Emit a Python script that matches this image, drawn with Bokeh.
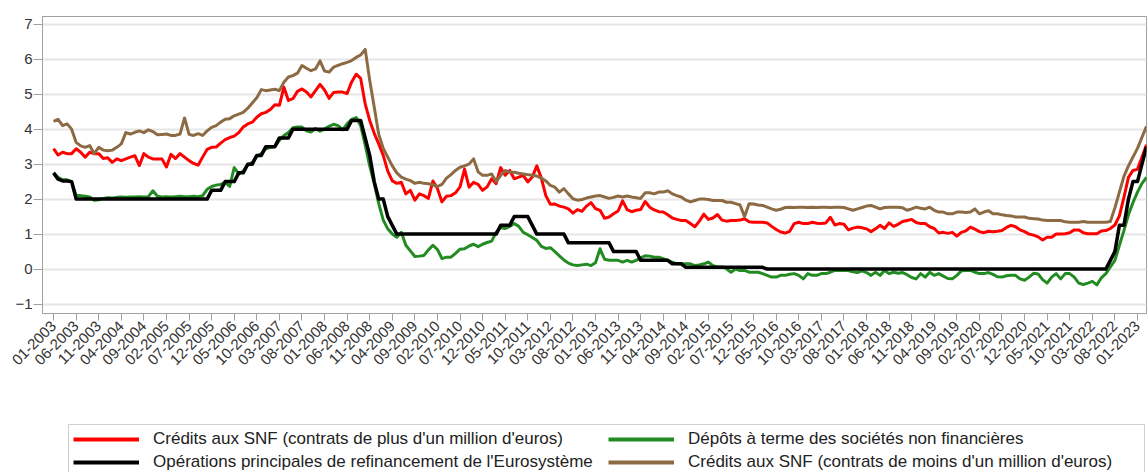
from bokeh.plotting import figure
from bokeh.models import Range1d, FixedTicker, Legend, LegendItem
from bokeh.layouts import column
from bokeh.embed import file_html
from bokeh.resources import INLINE
import math

# ---- data: monthly, Jan 2003 .. Mar 2023 (index 0 .. 242) ----
credits_plus_1m = [  # red
    3.44, 3.26, 3.34, 3.30, 3.30, 3.44, 3.34, 3.20, 3.34, 3.30, 3.30, 3.16,
    3.18, 3.05, 3.15, 3.10, 3.15, 3.20, 3.24, 2.96, 3.30, 3.20, 3.15, 3.15,
    3.15, 2.92, 3.28, 3.16, 3.30, 3.20, 3.10, 3.02, 2.97, 3.20, 3.42, 3.48,
    3.49, 3.60, 3.70, 3.76, 3.80, 3.90, 4.06, 4.15, 4.20, 4.34, 4.44, 4.48,
    4.56, 4.70, 4.68, 5.20, 4.82, 4.87, 5.08, 5.15, 5.06, 4.92, 5.10, 5.28,
    5.12, 4.88, 5.05, 5.06, 5.06, 5.02, 5.35, 5.57, 5.45, 4.72, 4.25, 3.88,
    3.58, 3.25, 2.80, 2.52, 2.45, 2.48, 2.15, 2.25, 1.97, 2.15, 2.10, 2.02,
    2.52, 2.30, 1.92, 2.08, 2.10, 2.18, 2.35, 2.86, 2.34, 2.48, 2.42, 2.25,
    2.35, 2.58, 2.44, 2.90, 2.68, 2.82, 2.58, 2.63, 2.68, 2.49, 2.63, 2.95,
    2.60, 2.10, 1.85, 1.86, 1.80, 1.77, 1.72, 1.60, 1.70, 1.65, 1.80, 1.90,
    1.73, 1.68, 1.45, 1.49, 1.58, 1.66, 1.95, 1.70, 1.64, 1.68, 1.70, 1.93,
    1.77, 1.69, 1.64, 1.63, 1.55, 1.46, 1.42, 1.39, 1.39, 1.30, 1.21, 1.37,
    1.57, 1.42, 1.46, 1.56, 1.40, 1.37, 1.39, 1.39, 1.40, 1.44, 1.35, 1.34,
    1.34, 1.34, 1.32, 1.22, 1.13, 1.06, 1.03, 1.08, 1.30, 1.34, 1.30, 1.30,
    1.34, 1.31, 1.30, 1.32, 1.48, 1.26, 1.30, 1.28, 1.12, 1.17, 1.20, 1.18,
    1.15, 1.07, 1.15, 1.25, 1.16, 1.32, 1.22, 1.28, 1.36, 1.39, 1.42, 1.33,
    1.30, 1.30, 1.21, 1.16, 1.03, 1.05, 1.02, 1.05, 0.94, 1.05, 1.09, 1.20,
    1.14, 1.07, 1.04, 1.08, 1.07, 1.08, 1.10, 1.19, 1.25, 1.21, 1.12, 1.07,
    1.00, 0.97, 0.92, 0.83, 0.91, 0.91, 1.00, 1.00, 1.01, 1.04, 1.12, 1.12,
    1.04, 1.01, 1.01, 1.01, 1.09, 1.10, 1.16, 1.26, 1.52, 2.05, 2.62, 2.82,
    2.85, 3.20, 3.55,
]

depots_terme = [  # green
    2.75, 2.62, 2.55, 2.55, 2.50, 2.10, 2.10, 2.08, 2.06, 1.97, 1.98, 2.02,
    2.04, 2.03, 2.05, 2.06, 2.05, 2.06, 2.06, 2.07, 2.06, 2.07, 2.24, 2.08,
    2.06, 2.07, 2.06, 2.07, 2.08, 2.07, 2.07, 2.08, 2.07, 2.10, 2.28, 2.36,
    2.40, 2.42, 2.48, 2.36, 2.90, 2.72, 2.80, 2.98, 3.05, 3.22, 3.30, 3.44,
    3.48, 3.50, 3.68, 3.82, 3.90, 4.04, 4.06, 4.06, 3.95, 3.92, 4.02, 3.94,
    4.00, 4.08, 4.14, 4.10, 3.98, 4.15, 4.28, 4.33, 4.10, 3.55, 2.95, 2.45,
    1.87, 1.40, 1.15, 1.00, 0.91, 1.05, 0.68, 0.52, 0.36, 0.37, 0.39, 0.55,
    0.68, 0.56, 0.30, 0.34, 0.34, 0.45, 0.57, 0.58, 0.66, 0.71, 0.64, 0.71,
    0.76, 0.80, 1.05, 1.19, 1.16, 1.22, 1.30, 1.22, 1.05, 0.98, 0.90, 0.82,
    0.65, 0.59, 0.61, 0.50, 0.38, 0.26, 0.17, 0.12, 0.10, 0.12, 0.14, 0.10,
    0.18, 0.58, 0.28, 0.25, 0.25, 0.25, 0.20, 0.25, 0.20, 0.25, 0.32, 0.38,
    0.37, 0.34, 0.34, 0.30, 0.25, 0.20, 0.15, 0.15, 0.15, 0.15, 0.10, 0.12,
    0.15, 0.20, 0.10, 0.06, 0.06, 0.01, -0.09, 0.00, -0.04, -0.04, -0.09, -0.09,
    -0.09, -0.13, -0.18, -0.23, -0.23, -0.18, -0.18, -0.15, -0.13, -0.18, -0.28, -0.13,
    -0.18, -0.18, -0.13, -0.13, -0.09, -0.04, -0.04, -0.04, -0.04, -0.08, -0.10, -0.05,
    -0.10, -0.18, -0.09, -0.18, -0.04, -0.13, -0.09, -0.12, -0.10, -0.16, -0.24, -0.28,
    -0.13, -0.23, -0.09, -0.18, -0.13, -0.20, -0.27, -0.28, -0.18, -0.05, -0.04, -0.04,
    -0.09, -0.13, -0.13, -0.10, -0.15, -0.22, -0.23, -0.19, -0.18, -0.18, -0.28, -0.32,
    -0.23, -0.12, -0.14, -0.30, -0.40, -0.23, -0.13, -0.28, -0.13, -0.13, -0.23, -0.40,
    -0.44, -0.40, -0.35, -0.45, -0.25, -0.13, 0.06, 0.25, 0.68, 1.10, 1.55, 1.90,
    2.20, 2.45, 2.62,
]

refi_eurosysteme = [  # black
    2.75, 2.57, 2.52, 2.52, 2.50, 2.00, 2.00, 2.00, 2.00, 2.00, 2.00, 2.00,
    2.00, 2.00, 2.00, 2.00, 2.00, 2.00, 2.00, 2.00, 2.00, 2.00, 2.00, 2.00,
    2.00, 2.00, 2.00, 2.00, 2.00, 2.00, 2.00, 2.00, 2.00, 2.00, 2.00, 2.25,
    2.25, 2.25, 2.50, 2.50, 2.50, 2.75, 2.75, 3.00, 3.00, 3.25, 3.25, 3.50,
    3.50, 3.50, 3.75, 3.75, 3.75, 4.00, 4.00, 4.00, 4.00, 4.00, 4.00, 4.00,
    4.00, 4.00, 4.00, 4.00, 4.00, 4.00, 4.25, 4.25, 4.25, 3.75, 3.25, 2.50,
    2.00, 2.00, 1.50, 1.25, 1.00, 1.00, 1.00, 1.00, 1.00, 1.00, 1.00, 1.00,
    1.00, 1.00, 1.00, 1.00, 1.00, 1.00, 1.00, 1.00, 1.00, 1.00, 1.00, 1.00,
    1.00, 1.00, 1.00, 1.25, 1.25, 1.25, 1.50, 1.50, 1.50, 1.50, 1.25, 1.00,
    1.00, 1.00, 1.00, 1.00, 1.00, 1.00, 0.75, 0.75, 0.75, 0.75, 0.75, 0.75,
    0.75, 0.75, 0.75, 0.75, 0.50, 0.50, 0.50, 0.50, 0.50, 0.50, 0.25, 0.25,
    0.25, 0.25, 0.25, 0.25, 0.25, 0.15, 0.15, 0.15, 0.05, 0.05, 0.05, 0.05,
    0.05, 0.05, 0.05, 0.05, 0.05, 0.05, 0.05, 0.05, 0.05, 0.05, 0.05, 0.05,
    0.05, 0.05, 0.00, 0.00, 0.00, 0.00, 0.00, 0.00, 0.00, 0.00, 0.00, 0.00,
    0.00, 0.00, 0.00, 0.00, 0.00, 0.00, 0.00, 0.00, 0.00, 0.00, 0.00, 0.00,
    0.00, 0.00, 0.00, 0.00, 0.00, 0.00, 0.00, 0.00, 0.00, 0.00, 0.00, 0.00,
    0.00, 0.00, 0.00, 0.00, 0.00, 0.00, 0.00, 0.00, 0.00, 0.00, 0.00, 0.00,
    0.00, 0.00, 0.00, 0.00, 0.00, 0.00, 0.00, 0.00, 0.00, 0.00, 0.00, 0.00,
    0.00, 0.00, 0.00, 0.00, 0.00, 0.00, 0.00, 0.00, 0.00, 0.00, 0.00, 0.00,
    0.00, 0.00, 0.00, 0.00, 0.00, 0.00, 0.25, 0.50, 1.25, 1.25, 2.00, 2.50,
    2.50, 3.00, 3.50,
]

credits_moins_1m = [  # brown
    4.22, 4.28, 4.10, 4.15, 4.00, 3.62, 3.52, 3.48, 3.53, 3.30, 3.48, 3.40,
    3.38, 3.40, 3.48, 3.58, 3.90, 3.86, 3.91, 3.95, 3.90, 3.98, 3.93, 3.84,
    3.85, 3.86, 3.82, 3.82, 3.86, 4.32, 3.85, 3.82, 3.87, 3.82, 3.95, 4.05,
    4.10, 4.20, 4.28, 4.30, 4.38, 4.43, 4.48, 4.60, 4.75, 4.90, 5.13, 5.10,
    5.12, 5.14, 5.10, 5.34, 5.49, 5.53, 5.60, 5.82, 5.74, 5.67, 5.72, 5.95,
    5.66, 5.63, 5.77, 5.82, 5.87, 5.91, 5.96, 6.05, 6.12, 6.28, 5.40, 4.63,
    3.85, 3.45, 3.20, 2.95, 2.75, 2.63, 2.57, 2.53, 2.45, 2.48, 2.45, 2.44,
    2.41, 2.36, 2.42, 2.60, 2.70, 2.82, 2.91, 2.95, 3.00, 3.15, 2.78, 2.68,
    2.68, 2.72, 2.50, 2.68, 2.82, 2.77, 2.77, 2.74, 2.72, 2.70, 2.68, 2.66,
    2.60, 2.52, 2.39, 2.34, 2.20, 2.30, 2.15, 2.01, 1.97, 1.99, 2.03, 2.06,
    2.09, 2.10, 2.06, 2.02, 2.05, 2.09, 2.06, 2.09, 2.06, 2.04, 2.02, 2.18,
    2.18, 2.15, 2.20, 2.20, 2.24, 2.15, 2.10, 2.06, 1.97, 1.92, 1.96, 2.00,
    2.00, 1.99, 1.96, 1.96, 1.96, 1.91, 1.91, 1.87, 1.83, 1.50, 1.87, 1.86,
    1.83, 1.82, 1.77, 1.72, 1.68, 1.71, 1.76, 1.77, 1.76, 1.77, 1.77, 1.76,
    1.77, 1.76, 1.77, 1.77, 1.76, 1.77, 1.77, 1.76, 1.72, 1.68, 1.72, 1.76,
    1.80, 1.82, 1.77, 1.72, 1.76, 1.77, 1.77, 1.77, 1.75, 1.68, 1.72, 1.77,
    1.74, 1.72, 1.77, 1.68, 1.63, 1.63, 1.58, 1.58, 1.63, 1.63, 1.62, 1.63,
    1.72, 1.58, 1.63, 1.67, 1.58, 1.58, 1.55, 1.53, 1.52, 1.49, 1.49, 1.49,
    1.45, 1.44, 1.43, 1.40, 1.39, 1.39, 1.39, 1.39, 1.35, 1.34, 1.34, 1.34,
    1.36, 1.34, 1.34, 1.34, 1.34, 1.34, 1.36, 1.75, 2.20, 2.65, 2.95, 3.20,
    3.45, 3.77, 4.08,
]

tick_labels = [
    "01-2003", "06-2003", "11-2003", "04-2004", "09-2004", "02-2005", "07-2005",
    "12-2005", "05-2006", "10-2006", "03-2007", "08-2007", "01-2008", "06-2008",
    "11-2008", "04-2009", "09-2009", "02-2010", "07-2010", "12-2010", "05-2011",
    "10-2011", "03-2012", "08-2012", "01-2013", "06-2013", "11-2013", "04-2014",
    "09-2014", "02-2015", "07-2015", "12-2015", "05-2016", "10-2016", "03-2017",
    "08-2017", "01-2018", "06-2018", "11-2018", "04-2019", "09-2019", "02-2020",
    "07-2020", "12-2020", "05-2021", "10-2021", "03-2022", "08-2022", "01-2023",
]

series_names = [
    "Crédits aux SNF (contrats de plus d'un million d'euros)",
    "Dépôts à terme des sociétés non financières",
    "Opérations principales de refinancement de l'Eurosystème",
    "Crédits aux SNF (contrats de moins d'un million d'euros)",
]
series_colors = ["#FF0000", "#228B22", "#000000", "#8C6A43"]

n = len(credits_plus_1m)
assert n == len(depots_terme) == len(refi_eurosysteme) == len(credits_moins_1m) == 243
months = list(range(n))
tick_pos = [5 * i for i in range(len(tick_labels))]

FONT = "Liberation Sans"
GREY = "#A0A0A0"

# ---------------- main chart ----------------
p = figure(width=1147, height=390, output_backend="svg", toolbar_location=None,
           x_range=Range1d(-2.45, 242.0), y_range=Range1d(-1.27, 7.22),
           min_border_left=42, min_border_right=1, min_border_top=16,
           min_border_bottom=77, background_fill_color="white",
           border_fill_color="white")
p.outline_line_color = GREY
p.outline_line_width = 1

p.xgrid.visible = False
p.ygrid.grid_line_color = "#E6E6E6"
p.ygrid.grid_line_width = 2

p.yaxis.ticker = FixedTicker(ticks=[-1, 0, 1, 2, 3, 4, 5, 6, 7])
p.xaxis.ticker = FixedTicker(ticks=tick_pos)
p.xaxis.major_label_overrides = {pos: lab for pos, lab in zip(tick_pos, tick_labels)}
p.xaxis.major_label_orientation = math.pi / 4

for ax in (p.xaxis, p.yaxis):
    ax.axis_line_color = GREY
    ax.major_tick_line_color = GREY
    ax.major_tick_in = 0
    ax.minor_tick_line_color = None
    ax.major_label_text_font = FONT
    ax.major_label_text_color = "#333333"
p.xaxis.major_tick_out = 7
p.yaxis.major_tick_out = 9
p.yaxis.major_label_text_font_size = "15px"
p.xaxis.major_label_text_font_size = "15px"
p.yaxis.major_label_standoff = 1
p.xaxis.major_label_standoff = 3

series = [credits_plus_1m, depots_terme, refi_eurosysteme, credits_moins_1m]
widths = [3, 3, 3.5, 3]
for ys, col, w in zip(series, series_colors, widths):
    p.line(months, ys, line_color=col, line_width=w, line_join="round")

# ---------------- legend strip (same series, view range kept empty) ----------------
q = figure(width=1147, height=82, output_backend="svg", toolbar_location=None,
           x_range=Range1d(0, 1), y_range=Range1d(100, 101),
           min_border_left=0, min_border_right=0, min_border_top=0,
           min_border_bottom=0, background_fill_color="white",
           border_fill_color="white")
q.axis.visible = False
q.grid.visible = False
q.outline_line_color = None

rends = []
for ys, col in zip(series, series_colors):
    rends.append(q.line(months, ys, line_color=col, line_width=4))

items = [
    LegendItem(label=series_names[0], renderers=[rends[0]]),
    LegendItem(label=series_names[2], renderers=[rends[2]]),
    LegendItem(label=series_names[1], renderers=[rends[1]]),
    LegendItem(label=series_names[3], renderers=[rends[3]]),
]
legend = Legend(items=items, ncols=2, location=(26, -5),
                label_text_font=FONT, label_text_font_size="17px",
                label_text_color="#222222", glyph_width=66, glyph_height=20,
                label_height=20, label_width=452, label_standoff=14,
                spacing=3, padding=4, margin=0,
                border_line_color=GREY, border_line_width=1,
                background_fill_alpha=1.0)
q.add_layout(legend, "center")

layout = column(p, q, spacing=0)
open("out.html", "w").write(file_html(layout, INLINE))
